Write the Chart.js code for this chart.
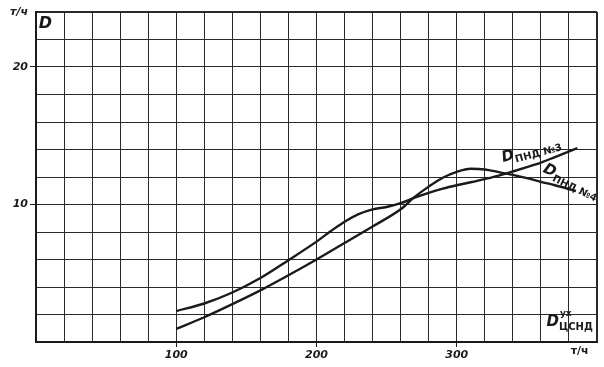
<!DOCTYPE html>
<html>
<head>
<meta charset="utf-8">
<script src="https://cdn.jsdelivr.net/npm/chart.js@4.4.1/dist/chart.umd.min.js"></script>
<style>
  html, body { margin: 0; padding: 0; background: #fff; }
  #chart { display: block; }
</style>
</head>
<body>
<canvas id="chart" width="604" height="367"></canvas>
<script>
// flow D, т/ч  (x: D ЦСНД, y: D ПНД)
const pnd3X = [100, 120, 140, 160, 180, 200, 210, 220, 230, 240, 250, 260, 270, 280, 290, 300, 310, 320, 330, 340, 350, 360, 370, 386];
const pnd3Y = [2.25, 2.8, 3.6, 4.65, 5.95, 7.3, 8.05, 8.75, 9.3, 9.65, 9.82, 10.1, 10.5, 10.85, 11.15, 11.4, 11.62, 11.85, 12.1, 12.4, 12.72, 13.05, 13.45, 14.1];

const pnd4X = [100, 120, 140, 160, 180, 200, 220, 240, 260, 270, 280, 290, 300, 310, 320, 330, 340, 350, 360, 370, 385];
const pnd4Y = [0.95, 1.8, 2.75, 3.75, 4.85, 6.0, 7.2, 8.4, 9.65, 10.55, 11.3, 11.95, 12.38, 12.6, 12.55, 12.35, 12.15, 11.92, 11.65, 11.4, 10.98];

const xTickLabels = { 100: "100", 200: "200", 300: "300" };
const yTickLabels = { 10: "10", 20: "20", 24: "т/ч" };

const ink = "#1a1a1a";
const handFont = "'DejaVu Sans', sans-serif";

const toPoints = (xs, ys) => xs.map((x, i) => ({ x: x, y: ys[i] }));

// text drawn on the chart: axis name, curve labels
function subLabel(ctx, x, y, angle, main, sub, sup) {
  ctx.save();
  ctx.translate(x, y);
  ctx.rotate(angle * Math.PI / 180);
  ctx.fillStyle = ink;
  ctx.textBaseline = "alphabetic";
  ctx.textAlign = "left";
  ctx.font = "italic bold 15px " + handFont;
  ctx.fillText(main, 0, 0);
  const w = ctx.measureText(main).width;
  ctx.font = "bold 10px " + handFont;
  ctx.fillText(sub, w, 4);
  if (sup) {
    ctx.font = "bold 9px " + handFont;
    ctx.fillText(sup, w + 1, -10);
  }
  ctx.restore();
}

const notes = {
  id: "notes",
  afterDraw(chart) {
    const ctx = chart.ctx;
    const xs = chart.scales.x, ys = chart.scales.y;
    ctx.save();
    ctx.fillStyle = ink;
    ctx.font = "italic bold 16px " + handFont;
    ctx.textAlign = "left";
    ctx.textBaseline = "top";
    ctx.fillText("D", xs.getPixelForValue(2), ys.getPixelForValue(23.7));

    ctx.font = "bold 11px " + handFont;
    ctx.textAlign = "right";
    ctx.fillText("т/ч", xs.getPixelForValue(394), ys.getPixelForValue(-0.3));
    ctx.restore();

    subLabel(ctx, xs.getPixelForValue(333), ys.getPixelForValue(13.1), -15, "D", "ПНД №3");
    subLabel(ctx, xs.getPixelForValue(361), ys.getPixelForValue(12.4), 26, "D", "ПНД №4");
    subLabel(ctx, xs.getPixelForValue(364), ys.getPixelForValue(1.2), 0, "D", "ЦСНД", "ух");
  }
};

const edgeWidth = (ctx, lo, hi) => {
  const v = ctx.tick ? ctx.tick.value : null;
  return (v === lo || v === hi) ? 2 : 1;
};

new Chart(document.getElementById("chart"), {
  type: "scatter",
  data: {
    datasets: [
      {
        label: "D ПНД №3",
        data: toPoints(pnd3X, pnd3Y),
        showLine: true,
        borderColor: ink,
        borderWidth: 2.4,
        pointRadius: 0,
        cubicInterpolationMode: "monotone"
      },
      {
        label: "D ПНД №4",
        data: toPoints(pnd4X, pnd4Y),
        showLine: true,
        borderColor: ink,
        borderWidth: 2.4,
        pointRadius: 0,
        cubicInterpolationMode: "monotone"
      }
    ]
  },
  options: {
    responsive: false,
    animation: false,
    layout: { padding: { top: 12, right: 7, left: 0, bottom: 0 } },
    plugins: {
      legend: { display: false },
      tooltip: { enabled: false }
    },
    scales: {
      x: {
        type: "linear",
        min: 0,
        max: 400,
        afterFit: s => { s.height = 25; },
        border: { color: ink, width: 2 },
        grid: {
          color: "#2a2a2a",
          lineWidth: ctx => edgeWidth(ctx, 0, 400),
          tickLength: 5,
          tickColor: ctx => (xTickLabels[ctx.tick.value] ? ink : "rgba(0,0,0,0)")
        },
        ticks: {
          stepSize: 20,
          autoSkip: false,
          maxRotation: 0,
          padding: 2,
          color: ink,
          font: { family: handFont, size: 11, style: "italic", weight: "bold" },
          callback: v => xTickLabels[v] || ""
        }
      },
      y: {
        type: "linear",
        min: 0,
        max: 24,
        afterFit: s => { s.width = 36; },
        border: { color: ink, width: 2 },
        grid: {
          color: "#2a2a2a",
          lineWidth: ctx => edgeWidth(ctx, 0, 24),
          tickLength: 6,
          tickColor: ctx => (ctx.tick.value === 10 || ctx.tick.value === 20 ? ink : "rgba(0,0,0,0)")
        },
        ticks: {
          stepSize: 2,
          autoSkip: false,
          padding: 2,
          color: ink,
          font: { family: handFont, size: 11, style: "italic", weight: "bold" },
          callback: v => yTickLabels[v] || ""
        }
      }
    }
  },
  plugins: [notes]
});
</script>
</body>
</html>
